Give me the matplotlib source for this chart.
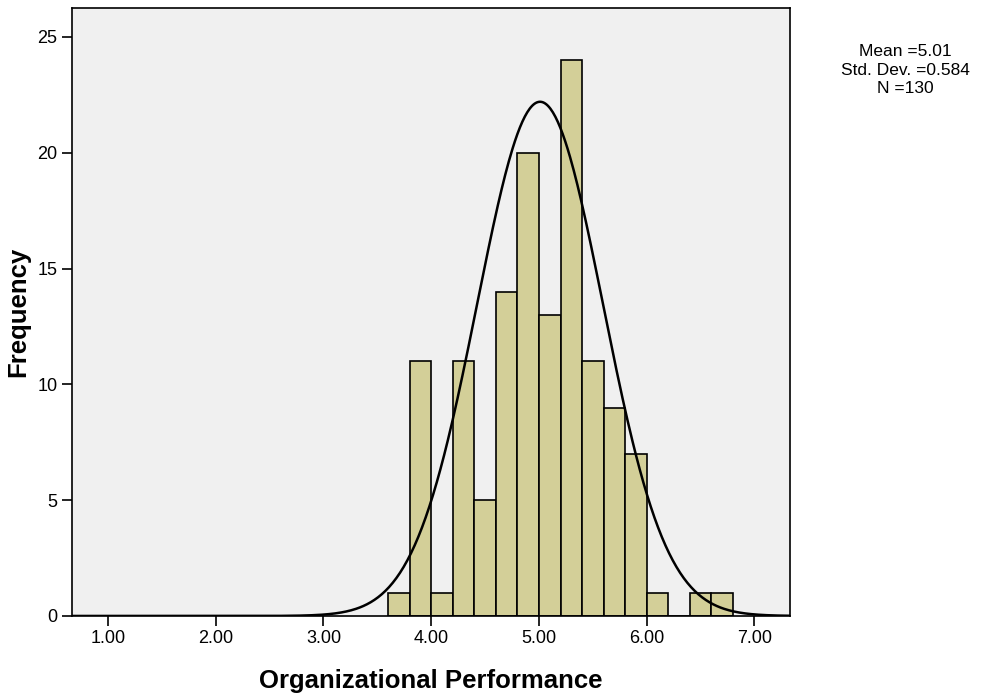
import numpy as np
import matplotlib
matplotlib.use('Agg')
import matplotlib.pyplot as plt

plt.rcParams['font.family'] = ['Liberation Sans', 'DejaVu Sans']

# histogram bins (left edges) and counts
bin_left = [3.6, 3.8, 4.0, 4.2, 4.4, 4.6, 4.8, 5.0, 5.2, 5.4, 5.6, 5.8, 6.0, 6.2, 6.4, 6.6]
counts = [1, 11, 1, 11, 5, 14, 20, 13, 24, 11, 9, 7, 1, 0, 1, 1]
bin_width = 0.2

mean = 5.01
std = 0.584
n = 130
curve_width = 0.25  # scaling SPSS used for the normal curve

fig = plt.figure(figsize=(9.88, 6.96), dpi=100)
ax = fig.add_axes([0.0729, 0.115, 0.7267, 0.8735])
ax.set_facecolor('#f0f0f0')

ax.bar(bin_left, counts, width=bin_width, align='edge',
       color='#d3cf98', edgecolor='black', linewidth=1.2, zorder=2)

xs = np.linspace(0.6, 7.4, 600)
ys = n * curve_width / (std * np.sqrt(2 * np.pi)) * np.exp(-0.5 * ((xs - mean) / std) ** 2)
ax.plot(xs, ys, color='black', linewidth=1.8, zorder=3)

ax.set_xlim(0.666, 7.33)
ax.set_ylim(0, 26.25)
ax.set_xticks([1, 2, 3, 4, 5, 6, 7])
ax.set_xticklabels(['1.00', '2.00', '3.00', '4.00', '5.00', '6.00', '7.00'])
ax.set_yticks([0, 5, 10, 15, 20, 25])
ax.tick_params(direction='out', length=7, width=1.2, labelsize=13, colors='black')
ax.tick_params(axis='x', pad=3)
for s in ax.spines.values():
    s.set_linewidth(1.2)

ax.set_xlabel('Organizational Performance', fontsize=18.5, fontweight='bold', labelpad=16)
ax.set_ylabel('Frequency', fontsize=18.5, fontweight='bold')
ax.yaxis.set_label_coords(-0.058, 0.5)

fig.text(0.916, 0.899, 'Mean =5.01\nStd. Dev. =0.584\nN =130',
         ha='center', va='center', fontsize=12.5, linespacing=1.3)

plt.savefig('out.png', dpi=100)
